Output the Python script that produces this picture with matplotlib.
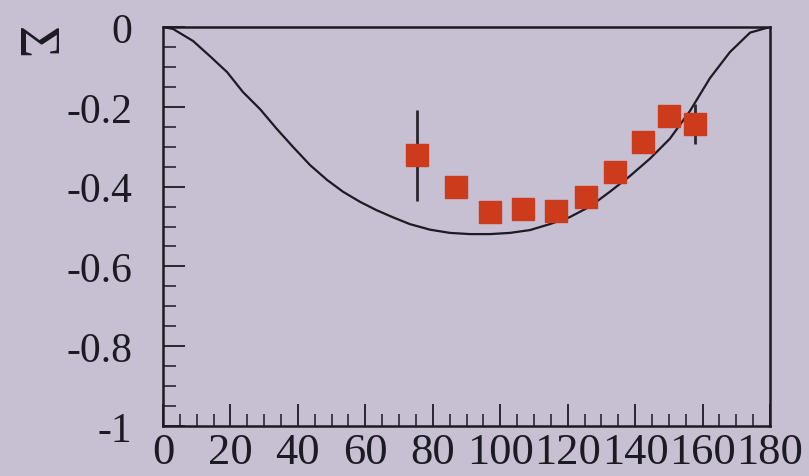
import matplotlib
matplotlib.use("Agg")
import matplotlib.pyplot as plt
from matplotlib.ticker import MultipleLocator

# Measured beam asymmetry points
theta_pts = [75.4, 86.8, 97.1, 106.8, 116.4, 125.3, 133.9, 142.2, 149.9, 157.8]
sigma_pts = [-0.322, -0.401, -0.463, -0.456, -0.462, -0.426, -0.364, -0.288, -0.224, -0.243]
sigma_err = [0.115, 0.0, 0.0, 0.0, 0.0, 0.0, 0.0, 0.0, 0.0, 0.05]

# Model prediction curve
curve_theta = [0, 3, 8.9, 13.9, 19, 23.7, 28.8, 33.8, 38.6, 43.6, 48.6, 53.4, 58.4,
               63.3, 68.2, 73.2, 79.2, 85.1, 91, 97, 102.9, 108.8, 114.7, 120.5, 126.6,
               132.5, 138.4, 144.4, 150.3, 156.3, 162.2, 168.1, 174.1, 180]
curve_sigma = [0, -0.005, -0.035, -0.073, -0.113, -0.163, -0.206, -0.256, -0.301,
               -0.346, -0.383, -0.413, -0.438, -0.459, -0.477, -0.494, -0.508, -0.516,
               -0.519, -0.519, -0.516, -0.509, -0.494, -0.477, -0.450, -0.413, -0.374,
               -0.330, -0.280, -0.210, -0.128, -0.063, -0.014, 0]

x_ticks = [0, 20, 40, 60, 80, 100, 120, 140, 160, 180]
y_ticks = [0, -0.2, -0.4, -0.6, -0.8, -1]
y_ticklabels = ["0", "-0.2", "-0.4", "-0.6", "-0.8", "-1"]

bg = "#c7c0d2"
ink = "#1c1a22"

plt.rcParams["font.family"] = ["Liberation Serif", "DejaVu Serif"]

fig = plt.figure(figsize=(8.09, 4.77), dpi=100, facecolor=bg)
ax = fig.add_axes([0.2015, 0.1048, 0.7503, 0.8365], facecolor=bg)

ax.plot(curve_theta, curve_sigma, color=ink, lw=1.6, zorder=2)

# error bars drawn beneath the markers
for t, s, e in zip(theta_pts, sigma_pts, sigma_err):
    if e > 0:
        ax.errorbar([t], [s], yerr=[e], fmt="none", ecolor="#2a2630", elinewidth=2.0,
                    capsize=0, zorder=3)
ax.plot(theta_pts, sigma_pts, ls="none", marker="s", markersize=16.5,
        markerfacecolor="#cc3b1c", markeredgecolor="#cc3b1c", zorder=4)

ax.set_xlim(0, 180)
ax.set_ylim(-1, 0)
ax.set_xticks(x_ticks)
ax.set_xticklabels([str(v) for v in x_ticks])
ax.set_yticks(y_ticks)
ax.set_yticklabels(y_ticklabels)
ax.xaxis.set_minor_locator(MultipleLocator(5))
ax.yaxis.set_minor_locator(MultipleLocator(0.05))

ax.tick_params(which="both", direction="in", top=False, right=False, color=ink,
               labelcolor=ink)
ax.tick_params(axis="x", which="major", length=16, width=1.3, pad=4.5, labelsize=32)
ax.tick_params(axis="x", which="minor", length=9, width=1.1)
ax.tick_params(axis="y", which="major", length=16, width=1.3, pad=22, labelsize=30)
ax.tick_params(axis="y", which="minor", length=9, width=1.1)

for sp in ax.spines.values():
    sp.set_color(ink)
    sp.set_linewidth(1.8)

# vertical axis symbol at the upper left
fig.text(32 / 809, 1 - 43 / 477, "Σ", fontsize=40, color=ink, rotation=270,
         ha="center", va="center")

fig.savefig("out.png", dpi=100, facecolor=bg)
